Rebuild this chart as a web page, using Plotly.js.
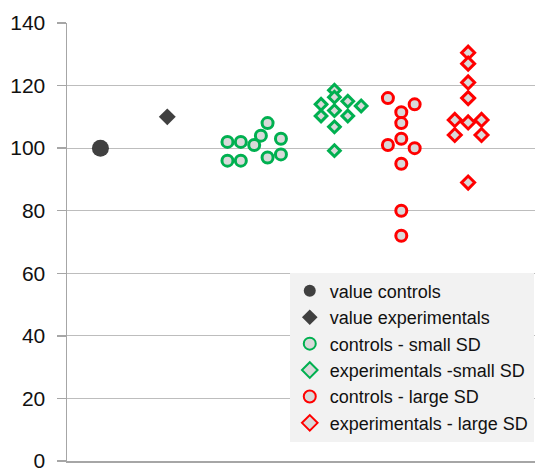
<!DOCTYPE html>
<html>
<head>
<meta charset="utf-8">
<script src="https://cdn.plot.ly/plotly-3.0.1.min.js"></script>
<style>html,body{margin:0;padding:0;background:#fff;}#chart{width:537px;height:469px;}</style>
</head>
<body>
<div id="chart"></div>
<script>
// Data
const valueControlsX = [0.5];
const valueControlsY = [100];
const valueExpX = [1.5];
const valueExpY = [110];
const ctrlSmallX = [2.4, 2.6, 2.4, 2.6, 2.8, 2.9, 3.0, 3.0, 3.2, 3.2];
const ctrlSmallY = [102, 102, 96, 96, 101, 104, 108, 97, 103, 98];
const expSmallX = [4.0, 4.0, 3.8, 4.2, 4.4, 4.0, 3.8, 4.2, 4.0, 4.0];
const expSmallY = [118.5, 116.3, 114, 115, 113.5, 112, 110.3, 110.3, 106.8, 99.2];
const ctrlLargeX = [4.8, 5.2, 5.0, 5.0, 5.0, 4.8, 5.2, 5.0, 5.0, 5.0];
const ctrlLargeY = [116, 114, 111.5, 108, 103, 101, 100, 95, 80, 72];
const expLargeX = [6.0, 6.0, 6.0, 6.0, 5.8, 6.0, 6.2, 5.8, 6.2, 6.0];
const expLargeY = [130.5, 127, 121, 116, 109, 108.2, 109, 104.2, 104.2, 89];
const seriesNames = ['value controls', 'value experimentals', 'controls - small SD',
  'experimentals -small SD', 'controls - large SD', 'experimentals - large SD'];
const yTicks = [0, 20, 40, 60, 80, 100, 120, 140];

const GREEN = '#00b050', RED = '#ff0000', DARK = '#404040', FILL = '#d9d9d9';

const traces = [
  {x: valueControlsX, y: valueControlsY, name: seriesNames[0], mode: 'markers', type: 'scatter',
   marker: {symbol: 'circle', size: 17, color: DARK}},
  {x: valueExpX, y: valueExpY, name: seriesNames[1], mode: 'markers', type: 'scatter',
   marker: {symbol: 'diamond', size: 13, color: DARK}},
  {x: ctrlSmallX, y: ctrlSmallY, name: seriesNames[2], mode: 'markers', type: 'scatter',
   marker: {symbol: 'circle', size: 11, color: FILL, line: {color: GREEN, width: 3}}},
  {x: expSmallX, y: expSmallY, name: seriesNames[3], mode: 'markers', type: 'scatter',
   marker: {symbol: 'diamond', size: 9, color: FILL, line: {color: GREEN, width: 3}}},
  {x: ctrlLargeX, y: ctrlLargeY, name: seriesNames[4], mode: 'markers', type: 'scatter',
   marker: {symbol: 'circle', size: 11, color: FILL, line: {color: RED, width: 3}}},
  {x: expLargeX, y: expLargeY, name: seriesNames[5], mode: 'markers', type: 'scatter',
   marker: {symbol: 'diamond', size: 10, color: FILL, line: {color: RED, width: 3}}}
];

const layout = {
  width: 537, height: 469,
  margin: {l: 67, r: 2, t: 23, b: 8, pad: 0},
  paper_bgcolor: '#ffffff', plot_bgcolor: '#ffffff',
  font: {family: '"Liberation Sans", Arial, Helvetica, sans-serif', color: '#111111'},
  showlegend: true,
  xaxis: {range: [0, 7], showgrid: false, zeroline: false, showticklabels: false, ticks: '',
    showline: true, linecolor: '#a6a6a6', linewidth: 1.5},
  yaxis: {range: [0, 140], tickvals: yTicks, ticktext: yTicks.map(String),
    showgrid: true, gridcolor: '#bdbdbd', gridwidth: 1, zeroline: false,
    showline: true, linecolor: '#a6a6a6', linewidth: 1.5,
    ticks: 'outside', ticklen: 9, tickcolor: '#a6a6a6', tickwidth: 1.5,
    ticklabelstandoff: 7, ticklabeloverflow: 'allow',
    tickfont: {size: 21, color: '#111111'}},
  legend: {x: 0.476, y: 0.43, xanchor: 'left', yanchor: 'top',
    bgcolor: '#f2f2f2', borderwidth: 0, font: {size: 18, color: '#111111'},
    tracegroupgap: 0, itemsizing: 'constant'}
};

Plotly.newPlot('chart', traces, layout, {staticPlot: true, displayModeBar: false});
</script>
</body>
</html>
